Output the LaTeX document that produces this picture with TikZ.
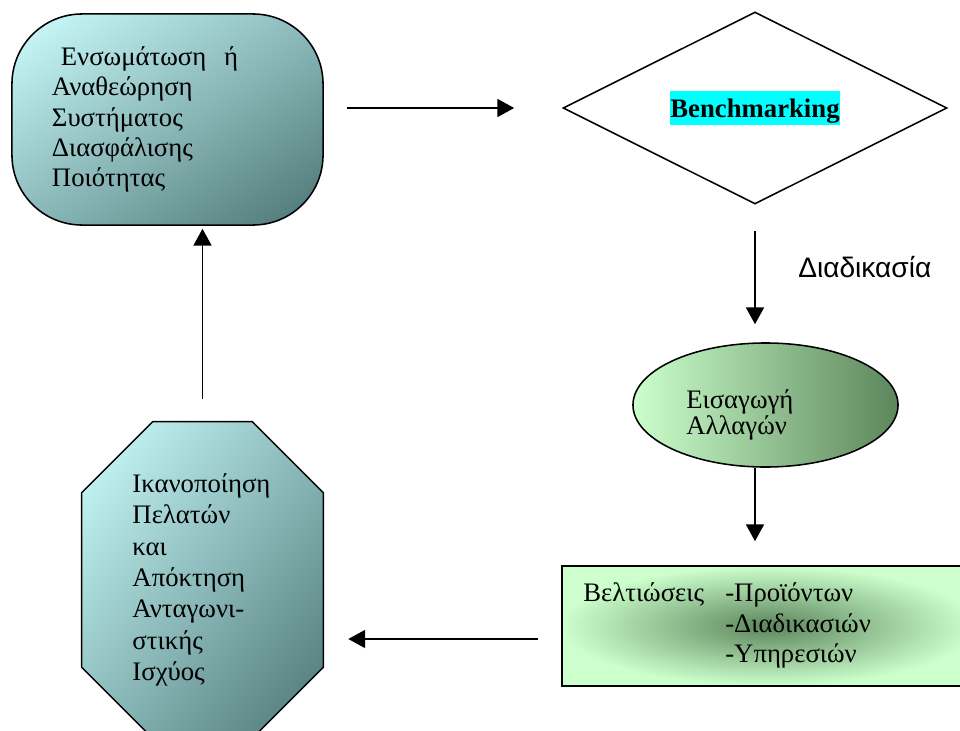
\documentclass[tikz,border=0pt]{standalone}
\usepackage{fontspec}
\setmainfont{Liberation Serif}
\newfontfamily\grsans{Liberation Sans}
\usetikzlibrary{arrows.meta,shapes.geometric,shadings}

\definecolor{palecyan}{RGB}{206,255,255}
\definecolor{midcyan}{RGB}{140,186,186}
\definecolor{darkcyan}{RGB}{76,116,116}
\definecolor{palegreen}{RGB}{204,255,204}
\definecolor{darkgreen}{RGB}{92,134,92}
\definecolor{hilite}{RGB}{0,255,255}

\begin{document}
\begin{tikzpicture}[x=0.025cm, y=-0.025cm,
  font=\fontsize{19}{21.5}\selectfont,
  box/.style={draw=black, line width=1.1pt, align=left},
  flow/.style={line width=1.1pt, -{Triangle[length=0.42cm, width=0.45cm]}}]

  \useasboundingbox (0,0) rectangle (960,730);

  % shapes
  \node[box, rounded corners=1.75cm, minimum width=7.775cm, minimum height=5.275cm,
        text width=5.775cm, upper left=palecyan, lower right=darkcyan,
        upper right=midcyan, lower left=midcyan] (quality) at (167.5, 119.5)
        {\ Ενσωμάτωση\ \ ή\\Αναθεώρηση\\Συστήματος\\Διασφάλισης\\Ποιότητας};

  \node[box, diamond, aspect=2, fill=white, inner sep=0, minimum width=9.6cm,
        minimum height=4.8cm] (bench) at (755, 108)
        {\setlength{\fboxsep}{0pt}\colorbox{hilite}{\rule[-0.175cm]{0pt}{0.825cm}\textbf{Benchmarking}}};

  \node[box, ellipse, left color=palegreen, right color=darkgreen,
        minimum width=6.625cm, minimum height=3.1cm] (change) at (765.5, 405) {};
  \node[align=left, anchor=west, inner sep=0, font=\fontsize{19}{18.5}\selectfont]
        (changetxt) at (686, 415) {Εισαγωγή\\Αλλαγών};

  \node[box, rectangle, inner color=darkgreen, outer color=palegreen,
        minimum width=10.325cm, minimum height=3cm] (improve) at (768.5, 626) {};
  \node[anchor=west, inner sep=0] (improvetxt) at (583, 626)
        {\begin{tabular}{@{}p{3.55cm}@{}l@{}}
          Βελτιώσεις & -Προϊόντων\\
                     & -Διαδικασιών\\
                     & -Υπηρεσιών
        \end{tabular}};

  % octagon, corners cut by 71px
  \node[minimum width=6.025cm, minimum height=7.9cm] (clients) at (202.5, 580) {};
  \shade[draw=black, line width=1.1pt, upper left=palecyan, lower right=darkcyan,
         upper right=midcyan, lower left=midcyan]
    ([xshift=1.775cm]clients.north west) -- ([xshift=-1.775cm]clients.north east)
    -- ([yshift=-1.775cm]clients.north east) -- ([yshift=1.775cm]clients.south east)
    -- ([xshift=-1.775cm]clients.south east) -- ([xshift=1.775cm]clients.south west)
    -- ([yshift=1.775cm]clients.south west) -- ([yshift=-1.775cm]clients.north west) -- cycle;
  \node[align=left, text width=3.5cm, font=\fontsize{19}{22.3}\selectfont] (clientstxt) at (clients)
        {Ικανοποίηση\\Πελατών\\και\\Απόκτηση\\Ανταγωνι-\\στικής\\Ισχύος};

  \node[anchor=west, inner sep=0, font=\grsans\fontsize{20}{24}\selectfont]
        (process) at (798, 267) {Διαδικασία};

  % arrows
  \draw[flow, shorten <=0.575cm, shorten >=1.2cm] (quality.east |- bench.west) -- (bench.west);
  \draw[flow, shorten <=0.65cm, shorten >=0.45cm] (bench.south) -- (bench.south |- change.north);
  \draw[flow, shorten >=0.6cm] (bench.south |- change.south) -- (bench.south |- improve.north);
  \draw[flow, shorten <=0.575cm, shorten >=0.625cm]
        ([yshift=-0.325cm]improve.west) -- ([yshift=-0.325cm]improve.west -| clients.east);
  \draw[flow, shorten <=0.575cm, shorten >=0.075cm] (clients.north) -- (clients.north |- quality.south);
\end{tikzpicture}
\end{document}
